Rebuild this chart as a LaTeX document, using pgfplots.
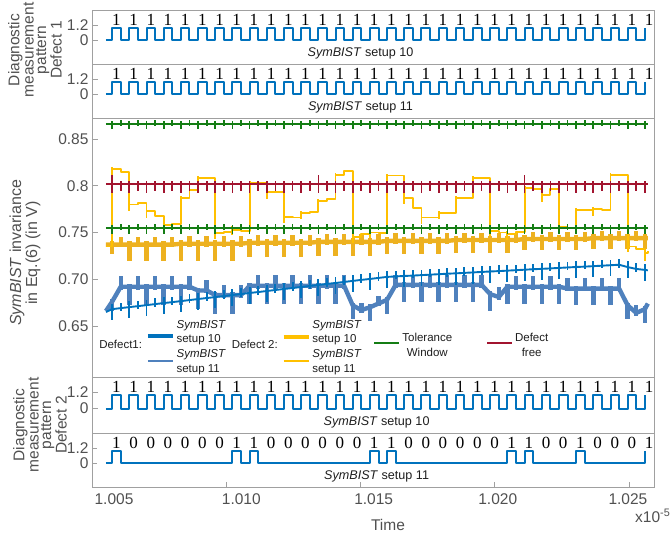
\documentclass[border=0pt]{standalone}
\usepackage{fontspec}
\setmainfont{Liberation Sans}
\newfontfamily\numfont{Liberation Serif}
\usepackage{pgfplots}
\usepackage{pgfplotstable}
\pgfplotsset{compat=1.18}

\definecolor{axgray}{RGB}{160,160,160}
\definecolor{tickgray}{RGB}{80,80,80}
\definecolor{txtdark}{RGB}{30,30,30}
\definecolor{sigblue}{RGB}{0,114,189}
\definecolor{bluethick}{RGB}{79,129,189}
\definecolor{bluethin}{RGB}{0,114,189}
\definecolor{yelthick}{RGB}{237,177,32}
\definecolor{yelthin}{RGB}{255,192,0}
\definecolor{tolgreen}{RGB}{20,125,20}
\definecolor{freered}{RGB}{162,20,47}

% return-to-zero pattern, all bits = 1 (time in units of 1e-5 s)
\pgfplotstableread{
t v
1.00552 0
1.00575 1
1.00607 0
1.00639 1
1.00671 0
1.00703 1
1.00735 0
1.00767 1
1.00799 0
1.00831 1
1.00863 0
1.00895 1
1.00927 0
1.00959 1
1.00991 0
1.01023 1
1.01055 0
1.01087 1
1.01119 0
1.01151 1
1.01183 0
1.01215 1
1.01247 0
1.01279 1
1.01311 0
1.01343 1
1.01375 0
1.01407 1
1.01439 0
1.01471 1
1.01503 0
1.01535 1
1.01567 0
1.01599 1
1.01631 0
1.01663 1
1.01695 0
1.01727 1
1.01759 0
1.01791 1
1.01823 0
1.01855 1
1.01887 0
1.01919 1
1.01951 0
1.01983 1
1.02015 0
1.02047 1
1.02079 0
1.02111 1
1.02143 0
1.02175 1
1.02207 0
1.02239 1
1.02271 0
1.02303 1
1.02335 0
1.02367 1
1.02399 0
1.02431 1
1.02463 0
1.02495 1
1.02527 0
1.02559 1
}\pulsesA

% defect 2, setup 11: only the 1-bits give a pulse
\pgfplotstableread{
t v
1.00552 0
1.00575 1
1.00607 0
1.01023 1
1.01055 0
1.01087 1
1.01119 0
1.01535 1
1.01567 0
1.01599 1
1.01631 0
1.02047 1
1.02079 0
1.02111 1
1.02143 0
1.02303 1
1.02335 0
1.02559 1
}\pulsesB

% bit labels: a = all-ones pattern, b = defect 2 / setup 11
\pgfplotstableread{
t y a b
1.00591 1.60 1 1
1.00655 1.60 1 0
1.00719 1.60 1 0
1.00783 1.60 1 0
1.00847 1.60 1 0
1.00911 1.60 1 0
1.00975 1.60 1 0
1.01039 1.60 1 1
1.01103 1.60 1 1
1.01167 1.60 1 0
1.01231 1.60 1 0
1.01295 1.60 1 0
1.01359 1.60 1 0
1.01423 1.60 1 0
1.01487 1.60 1 0
1.01551 1.60 1 1
1.01615 1.60 1 1
1.01679 1.60 1 0
1.01743 1.60 1 0
1.01807 1.60 1 0
1.01871 1.60 1 0
1.01935 1.60 1 0
1.01999 1.60 1 0
1.02063 1.60 1 1
1.02127 1.60 1 1
1.02191 1.60 1 0
1.02255 1.60 1 0
1.02319 1.60 1 1
1.02383 1.60 1 0
1.02447 1.60 1 0
1.02511 1.60 1 0
1.02575 1.60 1 1
}\bitstab

% tolerance window (gh, gl) and defect-free (r), with glitch heights
\pgfplotstableread{
t gh gl gp gm r rp rm
1.00552 0.8663 0.7548 0 0 0.802 0 0
1.00575 0.8663 0.7548 0.003 0.006 0.802 0.010 0.010
1.00607 0.8663 0.7548 0.004 0.002 0.802 0.003 0.008
1.00639 0.8663 0.7548 0.003 0.006 0.802 0.003 0.010
1.00671 0.8663 0.7548 0.004 0.002 0.802 0.003 0.008
1.00703 0.8663 0.7548 0.003 0.006 0.802 0.003 0.010
1.00735 0.8663 0.7548 0.004 0.002 0.802 0.003 0.008
1.00767 0.8663 0.7548 0.003 0.006 0.802 0.003 0.010
1.00799 0.8663 0.7548 0.004 0.002 0.802 0.003 0.008
1.00831 0.8663 0.7548 0.003 0.006 0.802 0.003 0.010
1.00863 0.8663 0.7548 0.004 0.002 0.802 0.003 0.008
1.00895 0.8663 0.7548 0.003 0.006 0.802 0.003 0.010
1.00927 0.8663 0.7548 0.004 0.002 0.802 0.003 0.008
1.00959 0.8663 0.7548 0.003 0.006 0.802 0.003 0.010
1.00991 0.8663 0.7548 0.004 0.002 0.802 0.003 0.008
1.01023 0.8663 0.7548 0.003 0.006 0.802 0.003 0.010
1.01055 0.8663 0.7548 0.004 0.002 0.802 0.003 0.008
1.01087 0.8663 0.7548 0.003 0.006 0.802 0.003 0.010
1.01119 0.8663 0.7548 0.004 0.002 0.802 0.003 0.008
1.01151 0.8663 0.7548 0.003 0.006 0.802 0.003 0.010
1.01183 0.8663 0.7548 0.004 0.002 0.802 0.003 0.008
1.01215 0.8663 0.7548 0.003 0.006 0.802 0.003 0.010
1.01247 0.8663 0.7548 0.004 0.002 0.802 0.003 0.008
1.01279 0.8663 0.7548 0.003 0.006 0.802 0.003 0.010
1.01311 0.8663 0.7548 0.004 0.002 0.802 0.003 0.008
1.01343 0.8663 0.7548 0.003 0.006 0.802 0.010 0.010
1.01375 0.8663 0.7548 0.004 0.002 0.802 0.003 0.008
1.01407 0.8663 0.7548 0.003 0.006 0.802 0.003 0.010
1.01439 0.8663 0.7548 0.004 0.002 0.802 0.003 0.008
1.01471 0.8663 0.7548 0.003 0.006 0.802 0.003 0.010
1.01503 0.8663 0.7548 0.004 0.002 0.802 0.003 0.008
1.01535 0.8663 0.7548 0.003 0.006 0.802 0.003 0.010
1.01567 0.8663 0.7548 0.004 0.002 0.802 0.003 0.008
1.01599 0.8663 0.7548 0.003 0.006 0.802 0.003 0.010
1.01631 0.8663 0.7548 0.004 0.002 0.802 0.003 0.008
1.01663 0.8663 0.7548 0.003 0.006 0.802 0.003 0.010
1.01695 0.8663 0.7548 0.004 0.002 0.802 0.003 0.008
1.01727 0.8663 0.7548 0.003 0.006 0.802 0.003 0.010
1.01759 0.8663 0.7548 0.004 0.002 0.802 0.003 0.008
1.01791 0.8663 0.7548 0.003 0.006 0.802 0.003 0.010
1.01823 0.8663 0.7548 0.004 0.002 0.802 0.003 0.008
1.01855 0.8663 0.7548 0.003 0.006 0.802 0.003 0.010
1.01887 0.8663 0.7548 0.004 0.002 0.802 0.003 0.008
1.01919 0.8663 0.7548 0.003 0.006 0.802 0.003 0.010
1.01951 0.8663 0.7548 0.004 0.002 0.802 0.003 0.008
1.01983 0.8663 0.7548 0.003 0.006 0.802 0.003 0.010
1.02015 0.8663 0.7548 0.004 0.002 0.802 0.003 0.008
1.02047 0.8663 0.7548 0.003 0.006 0.802 0.003 0.010
1.02079 0.8663 0.7548 0.004 0.002 0.802 0.003 0.008
1.02111 0.8663 0.7548 0.003 0.006 0.802 0.010 0.010
1.02143 0.8663 0.7548 0.004 0.002 0.802 0.003 0.008
1.02175 0.8663 0.7548 0.003 0.006 0.802 0.003 0.010
1.02207 0.8663 0.7548 0.004 0.002 0.802 0.003 0.008
1.02239 0.8663 0.7548 0.003 0.006 0.802 0.003 0.010
1.02271 0.8663 0.7548 0.004 0.002 0.802 0.003 0.008
1.02303 0.8663 0.7548 0.003 0.006 0.802 0.003 0.010
1.02335 0.8663 0.7548 0.004 0.002 0.802 0.003 0.008
1.02367 0.8663 0.7548 0.003 0.006 0.802 0.003 0.010
1.02399 0.8663 0.7548 0.004 0.002 0.802 0.003 0.008
1.02431 0.8663 0.7548 0.003 0.006 0.802 0.003 0.010
1.02463 0.8663 0.7548 0.004 0.002 0.802 0.003 0.008
1.02495 0.8663 0.7548 0.003 0.006 0.802 0.003 0.010
1.02527 0.8663 0.7548 0.004 0.002 0.802 0.003 0.008
1.02559 0.8663 0.7548 0.003 0.006 0.802 0.003 0.010
1.02570 0.8663 0.7548 0 0 0.802 0 0
}\reftab

% defect 2: setup 10 (y10) and setup 11 (y11)
\pgfplotstableread{
t y10 y10p y10m y11 y11p y11m
1.00552 0.737 0 0 0.735 0 0
1.00575 0.737 0.004 0.010 0.818 0.002 0.007
1.00607 0.737 0.008 0.003 0.815 0 0
1.00639 0.737 0.004 0.018 0.780 0.002 0.007
1.00671 0.737 0.008 0.003 0.782 0 0
1.00703 0.737 0.004 0.018 0.773 0.002 0.007
1.00735 0.737 0.008 0.003 0.768 0 0
1.00767 0.737 0.004 0.018 0.758 0.002 0.007
1.00799 0.737 0.008 0.003 0.759 0 0
1.00831 0.738 0.004 0.018 0.787 0.002 0.007
1.00863 0.738 0.008 0.003 0.795 0 0
1.00895 0.738 0.004 0.018 0.808 0.002 0.007
1.00927 0.738 0.008 0.003 0.808 0 0
1.00959 0.738 0.004 0.018 0.749 0.004 0.006
1.00991 0.738 0.008 0.003 0.751 0 0
1.01023 0.738 0.004 0.018 0.753 0.004 0.006
1.01055 0.738 0.008 0.003 0.752 0 0
1.01087 0.739 0.004 0.015 0.803 0.002 0.007
1.01119 0.739 0.008 0.003 0.803 0 0
1.01151 0.739 0.004 0.015 0.793 0.002 0.007
1.01183 0.739 0.008 0.003 0.793 0 0
1.01215 0.739 0.004 0.015 0.767 0.002 0.007
1.01247 0.739 0.008 0.003 0.766 0 0
1.01279 0.739 0.004 0.015 0.771 0.002 0.007
1.01311 0.739 0.008 0.003 0.772 0 0
1.01343 0.740 0.004 0.015 0.784 0.002 0.007
1.01375 0.740 0.008 0.003 0.786 0 0
1.01407 0.740 0.004 0.015 0.812 0.002 0.007
1.01439 0.740 0.008 0.003 0.816 0 0
1.01471 0.740 0.004 0.015 0.745 0.004 0.006
1.01503 0.740 0.008 0.003 0.748 0 0
1.01535 0.740 0.004 0.015 0.750 0.004 0.006
1.01567 0.740 0.008 0.003 0.749 0 0
1.01599 0.741 0.004 0.014 0.811 0.002 0.007
1.01631 0.741 0.008 0.003 0.811 0 0
1.01663 0.741 0.004 0.014 0.787 0.002 0.007
1.01695 0.741 0.008 0.003 0.776 0 0
1.01727 0.741 0.004 0.014 0.766 0.002 0.007
1.01759 0.741 0.008 0.003 0.766 0 0
1.01791 0.741 0.004 0.014 0.771 0.002 0.007
1.01823 0.741 0.008 0.003 0.771 0 0
1.01855 0.742 0.004 0.014 0.787 0.002 0.007
1.01887 0.742 0.008 0.003 0.787 0 0
1.01919 0.742 0.004 0.014 0.808 0.002 0.007
1.01951 0.742 0.008 0.003 0.808 0 0
1.01983 0.742 0.004 0.014 0.752 0.004 0.006
1.02015 0.742 0.008 0.003 0.750 0 0
1.02047 0.742 0.004 0.014 0.748 0.004 0.006
1.02079 0.742 0.008 0.003 0.751 0 0
1.02111 0.743 0.004 0.012 0.798 0.002 0.007
1.02143 0.743 0.008 0.003 0.797 0 0
1.02175 0.743 0.004 0.012 0.790 0.002 0.007
1.02207 0.743 0.008 0.003 0.797 0 0
1.02239 0.743 0.004 0.012 0.756 0.002 0.007
1.02271 0.743 0.008 0.003 0.755 0 0
1.02303 0.743 0.004 0.012 0.774 0.002 0.007
1.02335 0.743 0.008 0.003 0.774 0 0
1.02367 0.744 0.004 0.012 0.775 0.002 0.007
1.02399 0.744 0.008 0.003 0.774 0 0
1.02431 0.744 0.004 0.012 0.812 0.002 0.007
1.02463 0.744 0.008 0.003 0.812 0 0
1.02495 0.744 0.004 0.012 0.735 0.004 0.006
1.02527 0.744 0.008 0.003 0.732 0 0
1.02559 0.744 0.004 0.012 0.728 0.004 0.008
1.02570 0.744 0 0 0.730 0 0
}\yeltab

% defect 1: setup 10 (b10) and setup 11 (b11)
\pgfplotstableread{
t b10 b10p b10m b11 b11p b11m
1.00552 0.666 0 0 0.665 0 0
1.00575 0.676 0.003 0.010 0.6680 0.006 0.012
1.00607 0.692 0.011 0.003 0.6691 0.006 0.003
1.00639 0.692 0.003 0.020 0.6702 0.006 0.012
1.00671 0.692 0.011 0.003 0.6712 0.006 0.003
1.00703 0.692 0.003 0.020 0.6723 0.006 0.012
1.00735 0.692 0.011 0.003 0.6734 0.006 0.003
1.00767 0.692 0.003 0.020 0.6745 0.006 0.012
1.00799 0.692 0.011 0.003 0.6755 0.006 0.003
1.00831 0.692 0.003 0.020 0.6766 0.006 0.012
1.00863 0.692 0.011 0.003 0.6777 0.006 0.003
1.00895 0.688 0.003 0.020 0.6788 0.006 0.012
1.00927 0.688 0.011 0.003 0.6799 0.006 0.003
1.00959 0.683 0.003 0.020 0.6809 0.006 0.012
1.00991 0.683 0.011 0.003 0.6820 0.006 0.003
1.01023 0.683 0.003 0.020 0.6831 0.006 0.012
1.01055 0.683 0.011 0.003 0.6842 0.006 0.003
1.01087 0.693 0.003 0.020 0.6853 0.006 0.012
1.01119 0.693 0.011 0.003 0.6863 0.006 0.003
1.01151 0.693 0.003 0.020 0.6874 0.006 0.012
1.01183 0.693 0.011 0.003 0.6885 0.006 0.003
1.01215 0.693 0.003 0.020 0.6896 0.006 0.012
1.01247 0.693 0.011 0.003 0.6906 0.006 0.003
1.01279 0.693 0.003 0.020 0.6917 0.006 0.012
1.01311 0.693 0.011 0.003 0.6928 0.006 0.003
1.01343 0.693 0.003 0.020 0.6939 0.006 0.012
1.01375 0.693 0.011 0.003 0.6950 0.006 0.003
1.01407 0.693 0.003 0.020 0.6960 0.006 0.012
1.01439 0.693 0.011 0.003 0.6971 0.006 0.003
1.01471 0.672 0.003 0.015 0.6982 0.006 0.012
1.01503 0.667 0.008 0.003 0.6993 0.006 0.003
1.01535 0.670 0.003 0.015 0.7003 0.006 0.012
1.01567 0.674 0.008 0.003 0.7014 0.006 0.003
1.01599 0.678 0.003 0.015 0.7025 0.006 0.012
1.01631 0.694 0.011 0.003 0.7030 0.006 0.003
1.01663 0.694 0.003 0.018 0.7035 0.006 0.012
1.01695 0.694 0.011 0.003 0.7039 0.006 0.003
1.01727 0.694 0.003 0.018 0.7044 0.006 0.012
1.01759 0.694 0.011 0.003 0.7049 0.006 0.003
1.01791 0.694 0.003 0.018 0.7054 0.006 0.012
1.01823 0.694 0.011 0.003 0.7059 0.006 0.003
1.01855 0.694 0.003 0.018 0.7063 0.006 0.012
1.01887 0.694 0.011 0.003 0.7068 0.006 0.003
1.01919 0.694 0.003 0.018 0.7073 0.006 0.012
1.01951 0.694 0.011 0.003 0.7078 0.006 0.003
1.01983 0.684 0.003 0.018 0.7083 0.006 0.012
1.02015 0.681 0.011 0.003 0.7087 0.006 0.003
1.02047 0.692 0.003 0.018 0.7092 0.006 0.012
1.02079 0.692 0.011 0.003 0.7097 0.006 0.003
1.02111 0.692 0.003 0.018 0.7102 0.006 0.012
1.02143 0.692 0.011 0.003 0.7107 0.006 0.003
1.02175 0.692 0.003 0.018 0.7111 0.006 0.012
1.02207 0.692 0.011 0.003 0.7116 0.006 0.003
1.02239 0.692 0.003 0.018 0.7121 0.006 0.012
1.02271 0.690 0.011 0.003 0.7126 0.006 0.003
1.02303 0.690 0.003 0.018 0.7131 0.006 0.012
1.02335 0.690 0.011 0.003 0.7135 0.006 0.003
1.02367 0.690 0.003 0.018 0.7140 0.006 0.012
1.02399 0.690 0.011 0.003 0.7145 0.006 0.003
1.02431 0.690 0.003 0.018 0.7150 0.006 0.012
1.02463 0.690 0.011 0.003 0.7155 0.006 0.003
1.02495 0.672 0.003 0.015 0.7130 0.006 0.012
1.02527 0.664 0.008 0.003 0.7110 0.006 0.003
1.02559 0.668 0.003 0.015 0.7100 0.006 0.012
1.02570 0.674 0 0 0.7095 0 0
}\bluetab

\pgfplotsset{
  panel/.style={scale only axis, width=562pt, xmin=1.005, xmax=1.02593,
    axis line style={draw=axgray, line width=0.8pt},
    tick style={draw=axgray, line width=0.8pt},
    tick align=inside, major tick length=6pt,
    xtick=\empty, ytick pos=left,
    tick label style={font=\fontsize{15.5}{16}\selectfont, text=tickgray}},
  digital/.style={panel, height=54pt, ymin=-1.82, ymax=2.36,
    ytick={0,1.2}, yticklabels={0,1.2}},
  pulse/.style={const plot, draw=sigblue, line width=2pt, line join=round},
  bits/.style={draw=none, mark=none, nodes near coords, point meta=explicit symbolic,
    nodes near coords align={center},
    every node near coord/.append style={font=\numfont\fontsize{17}{17}\selectfont,
      text=black, inner sep=0pt}},
}
\tikzset{tag/.style={font=\fontsize{12.6}{14}\selectfont, text=txtdark}}

\begin{document}
\begin{tikzpicture}

% Defect 1, setup 10
\begin{axis}[digital, at={(0pt,0pt)}, anchor=north west]
  \addplot[pulse] table[x=t, y=v] {\pulsesA};
  \addplot[bits] table[x=t, y=y, meta=a] {\bitstab};
  \node[tag] at (axis cs:1.015,-1.01) {\textit{SymBIST} setup 10};
\end{axis}

% Defect 1, setup 11
\begin{axis}[digital, at={(0pt,-54pt)}, anchor=north west]
  \addplot[pulse] table[x=t, y=v] {\pulsesA};
  \addplot[bits] table[x=t, y=y, meta=a] {\bitstab};
  \node[tag] at (axis cs:1.015,-1.01) {\textit{SymBIST} setup 11};
\end{axis}

% invariance signals
\begin{axis}[panel, at={(0pt,-108pt)}, anchor=north west, height=259pt,
  ymin=0.5954, ymax=0.8725, ytick={0.65,0.7,0.75,0.8,0.85},
  yticklabels={0.65,0.70,0.75,0.8,0.85},
  legend columns=6, legend cell align=left,
  legend style={at={(0.009,0.1236)}, anchor=west, draw=none, fill=none,
    inner sep=0pt, font=\fontsize{11.5}{14.6}\selectfont, text=txtdark,
    nodes={inner sep=2pt},
    /tikz/every even column/.append style={column sep=2pt}}]

  \addplot[forget plot, draw=bluethick, line width=4.4pt, line join=round,
    error bars/y dir=both, error bars/y explicit, error bars/error mark=none,
    error bars/error bar style={draw=bluethick, line width=4.4pt}]
    table[x=t, y=b10, y error plus=b10p, y error minus=b10m] {\bluetab};
  \addplot[forget plot, draw=yelthick, line width=4.4pt, line join=round,
    error bars/y dir=both, error bars/y explicit, error bars/error mark=none,
    error bars/error bar style={draw=yelthick, line width=4.4pt}]
    table[x=t, y=y10, y error plus=y10p, y error minus=y10m] {\yeltab};
  \addplot[forget plot, draw=bluethin, line width=1.9pt, line join=round,
    error bars/y dir=both, error bars/y explicit, error bars/error mark=none,
    error bars/error bar style={draw=bluethin, line width=1.9pt}]
    table[x=t, y=b11, y error plus=b11p, y error minus=b11m] {\bluetab};
  \addplot[forget plot, const plot, draw=yelthin, line width=1.9pt, line join=round,
    error bars/y dir=both, error bars/y explicit, error bars/error mark=none,
    error bars/error bar style={draw=yelthin, line width=1.9pt}]
    table[x=t, y=y11, y error plus=y11p, y error minus=y11m] {\yeltab};
  \addplot[forget plot, draw=tolgreen, line width=1.7pt,
    error bars/y dir=both, error bars/y explicit, error bars/error mark=none,
    error bars/error bar style={draw=tolgreen, line width=1.7pt}]
    table[x=t, y=gh, y error plus=gp, y error minus=gm] {\reftab};
  \addplot[forget plot, draw=tolgreen, line width=1.7pt,
    error bars/y dir=both, error bars/y explicit, error bars/error mark=none,
    error bars/error bar style={draw=tolgreen, line width=1.7pt}]
    table[x=t, y=gl, y error plus=gp, y error minus=gm] {\reftab};
  \addplot[forget plot, draw=freered, line width=1.7pt,
    error bars/y dir=both, error bars/y explicit, error bars/error mark=none,
    error bars/error bar style={draw=freered, line width=1.7pt}]
    table[x=t, y=r, y error plus=rp, y error minus=rm] {\reftab};

  \addlegendimage{empty legend}
  \addlegendentry{Defect1:}
  \addlegendimage{legend image code/.code={
    \draw[draw=bluethin, line width=3.5pt] (0pt,9pt) -- (25pt,9pt);
    \draw[draw=bluethick, line width=1.6pt] (0pt,-16pt) -- (25pt,-16pt);}}
  \addlegendentry{\raisebox{20pt}{\begin{tabular}{@{}l@{}}\textit{SymBIST}\\setup 10\\\textit{SymBIST}\\setup 11\end{tabular}}}
  \addlegendimage{empty legend}
  \addlegendentry{Defect 2:}
  \addlegendimage{legend image code/.code={
    \draw[draw=yelthin, line width=3.5pt] (0pt,8pt) -- (25pt,8pt);
    \draw[draw=yelthin, line width=1.6pt] (0pt,-16pt) -- (25pt,-16pt);}}
  \addlegendentry{\raisebox{20pt}{\begin{tabular}{@{}l@{}}\textit{SymBIST}\\setup 10\\\textit{SymBIST}\\setup 11\end{tabular}}\hspace{8pt}\null}
  \addlegendimage{legend image code/.code={
    \draw[draw=tolgreen, line width=1.8pt] (0pt,2pt) -- (25pt,2pt);}}
  \addlegendentry{\raisebox{8pt}{\begin{tabular}{@{}c@{}}Tolerance\\Window\end{tabular}}\hspace{30pt}\null}
  \addlegendimage{legend image code/.code={
    \draw[draw=freered, line width=1.8pt] (0pt,2pt) -- (25pt,2pt);}}
  \addlegendentry{\raisebox{8pt}{\begin{tabular}{@{}c@{}}Defect\\free\end{tabular}}}
\end{axis}

% Defect 2, setup 10
\begin{axis}[digital, height=56pt, at={(0pt,-367pt)}, anchor=north west]
  \addplot[pulse] table[x=t, y=v] {\pulsesA};
  \addplot[bits] table[x=t, y=y, meta=a] {\bitstab};
  \node[tag] at (axis cs:1.0156,-1.01) {\textit{SymBIST} setup 10};
\end{axis}

% Defect 2, setup 11
\begin{axis}[digital, at={(0pt,-423pt)}, anchor=north west,
  xtick={1.005,1.01,1.015,1.02,1.025}, xticklabels={}, xtick pos=bottom,
  major tick length=5pt,
  extra x ticks={1.00582,1.01056,1.01549,1.02011,1.02496},
  extra x tick labels={1.005,1.010,1.015,1.020,1.025},
  extra x tick style={major tick length=0pt, xticklabel style={yshift=-3pt}}]
  \addplot[pulse] table[x=t, y=v] {\pulsesB};
  \addplot[bits] table[x=t, y=y, meta=b] {\bitstab};
  \node[tag] at (axis cs:1.0156,-1.01) {\textit{SymBIST} setup 11};
\end{axis}

\node[rotate=90, align=center, font=\fontsize{15.5}{12.5}\selectfont, text=tickgray]
  at (-57pt,-40pt) {Diagnostic\\measurement\\pattern\\Defect 1};
\node[rotate=90, align=center, font=\fontsize{15.5}{12.5}\selectfont, text=tickgray]
  at (-52pt,-415pt) {Diagnostic\\measurement\\pattern\\Defect 2};
\node[rotate=90, align=center, font=\fontsize{16}{14}\selectfont, text=tickgray]
  at (-67pt,-243pt) {\textit{SymBIST} invariance\\in Eq.(6) (in V)};
\node[font=\fontsize{15.5}{16}\selectfont, text=tickgray] at (296pt,-515pt) {Time};
\node[anchor=base west, inner sep=0pt, font=\fontsize{15.5}{16}\selectfont, text=tickgray]
  at (543pt,-512pt) {x10\textsuperscript{-5}};

\pgfresetboundingbox
\path[use as bounding box] (-92pt,10pt) rectangle (579pt,-523pt);
\end{tikzpicture}
\end{document}
